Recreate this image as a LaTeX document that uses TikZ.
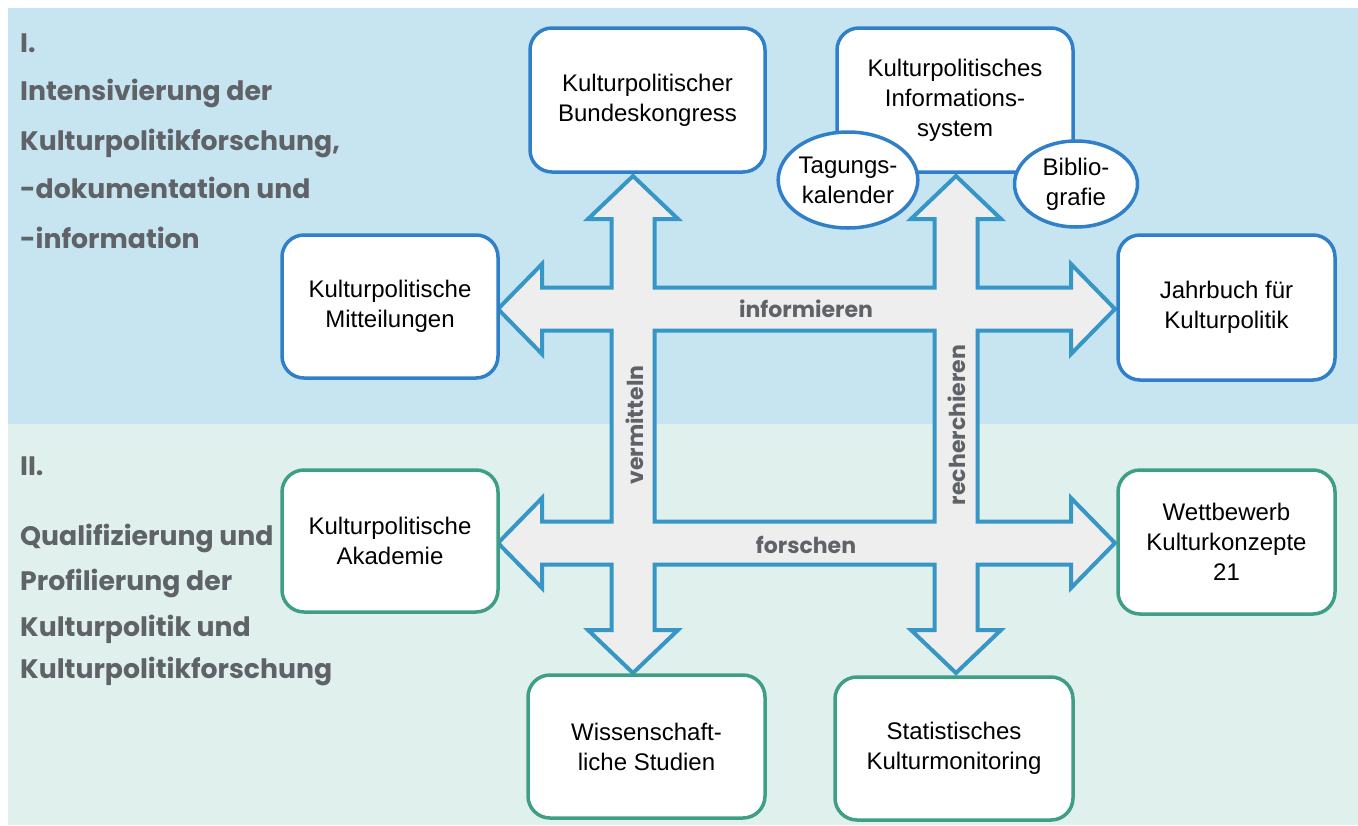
\documentclass[tikz,border=0pt]{standalone}
\usepackage{fontspec}
\setmainfont{Liberation Sans}
\newfontfamily\headfont{Poppins}
\usetikzlibrary{shapes.geometric}
\definecolor{bandblue}{RGB}{199,228,241}
\definecolor{bandgreen}{RGB}{224,240,237}
\definecolor{boxblue}{RGB}{47,128,200}
\definecolor{boxgreen}{RGB}{63,158,134}
\definecolor{arrowline}{RGB}{54,150,197}
\definecolor{arrowfill}{RGB}{238,238,238}
\definecolor{headgray}{RGB}{95,98,103}
\tikzset{
  boxbase/.style={draw, fill=white, line width=3.5pt, rounded corners=22pt, align=center,
    font=\fontsize{24}{30}\selectfont, text=black, inner sep=0pt},
  bluebox/.style={boxbase, draw=boxblue},
  greenbox/.style={boxbase, draw=boxgreen},
  ovalbox/.style={ellipse, draw=boxblue, fill=white, line width=3.5pt, align=center,
    font=\fontsize{24}{30}\selectfont, inner sep=0pt},
  headtext/.style={anchor=base west, text=headgray, inner sep=0pt,
    font=\headfont\bfseries\fontsize{26.7}{30}\selectfont},
  verbtext/.style={text=headgray, inner sep=0pt,
    font=\headfont\bfseries\fontsize{22}{26}\selectfont},
}
\begin{document}
\begin{tikzpicture}[x=1pt,y=-1pt]
\useasboundingbox (0,0) rectangle (1358,825);
\fill[white] (0,0) rectangle (1358,825);
\fill[bandblue] (8,8) rectangle (1358,424);
\fill[bandgreen] (8,424) rectangle (1358,825);

% left headings
\node[headtext] (h1a) at (20,52) {I.};
\node[headtext] (h1b) at (20,100) {Intensivierung der};
\node[headtext] (h1c) at (20,150) {Kulturpolitikforschung,};
\node[headtext] (h1d) at (20,198) {-dokumentation und};
\node[headtext] (h1e) at (20,248) {-information};
\node[headtext] (h2a) at (20,475) {II.};
\node[headtext] (h2b) at (20,545) {Qualifizierung und};
\node[headtext] (h2c) at (20,590) {Profilierung der};
\node[headtext] (h2d) at (20,636) {Kulturpolitik und};
\node[headtext] (h2e) at (20,678) {Kulturpolitikforschung};

% arrow cross
\path[fill=arrowfill, draw=arrowline, line width=4pt, line join=miter, even odd rule]
  (633,176) -- (678,219) -- (654.5,219) -- (654.5,287.5) -- (934.5,287.5) -- (934.5,219)
  -- (911,219) -- (956,176) -- (1001,219) -- (977.5,219) -- (977.5,287.5) -- (1071,287.5)
  -- (1071,264) -- (1115,309) -- (1071,354) -- (1071,330.5) -- (977.5,330.5) -- (977.5,521.5)
  -- (1071,521.5) -- (1071,498) -- (1115,543) -- (1071,588) -- (1071,564.5) -- (977.5,564.5)
  -- (977.5,630) -- (1001,630) -- (956,673) -- (911,630) -- (934.5,630) -- (934.5,564.5)
  -- (654.5,564.5) -- (654.5,630) -- (678,630) -- (633,673) -- (588,630) -- (611.5,630)
  -- (611.5,564.5) -- (542,564.5) -- (542,588) -- (498,543) -- (542,498) -- (542,521.5)
  -- (611.5,521.5) -- (611.5,330.5) -- (542,330.5) -- (542,354) -- (498,309) -- (542,264)
  -- (542,287.5) -- (611.5,287.5) -- (611.5,219) -- (588,219) -- cycle
  (654.5,330.5) rectangle (934.5,521.5);

\node[verbtext] (vinf) at (806,309) {informieren};
\node[verbtext] (vfor) at (806,545) {forschen};
\node[verbtext, rotate=90] (vver) at (635,425) {vermitteln};
\node[verbtext, rotate=90] (vrec) at (957,425) {recherchieren};

% boxes
\node[bluebox, minimum width=235pt, minimum height=144pt] (bund) at (647.5,100) {Kulturpolitischer\\Bundeskongress};
\node[bluebox, minimum width=236pt, minimum height=144pt] (info) at (955,100) {Kulturpolitisches\\Informations-\\system};
\node[ovalbox, minimum width=139pt, minimum height=96pt] (tag) at (848,180) {Tagungs-\\kalender};
\node[ovalbox, minimum width=123pt, minimum height=86pt] (bib) at (1076,184) {Biblio-\\grafie};
\node[bluebox, minimum width=216pt, minimum height=143pt] (mitt) at (390,306.5) {Kulturpolitische\\Mitteilungen};
\node[bluebox, minimum width=217pt, minimum height=145pt] (jahr) at (1226.5,307.5) {Jahrbuch für\\Kulturpolitik};
\node[greenbox, minimum width=216pt, minimum height=142pt] (akad) at (390,541) {Kulturpolitische\\Akademie};
\node[greenbox, minimum width=217pt, minimum height=144pt] (wett) at (1226.5,542) {Wettbewerb\\Kulturkonzepte\\21};
\node[greenbox, minimum width=237pt, minimum height=143pt] (wiss) at (646.5,746.5) {Wissenschaft-\\liche Studien};
\node[greenbox, minimum width=238pt, minimum height=143pt] (stat) at (954,748.5) {Statistisches\\Kulturmonitoring};
\end{tikzpicture}
\end{document}
